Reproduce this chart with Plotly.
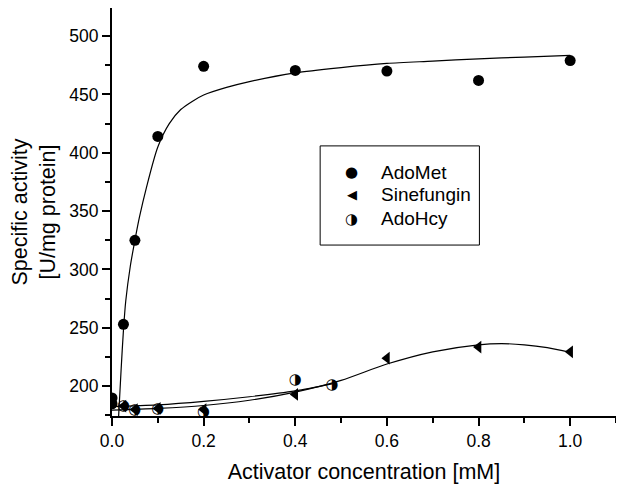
import plotly.graph_objects as go

# ---- data ----
adomet_x = [0, 0, 0.025, 0.05, 0.1, 0.2, 0.4, 0.6, 0.8, 1.0]
adomet_y = [190, 185, 253, 325, 414, 474, 470.5, 470, 462, 479]

sinef_x = [0.025, 0.05, 0.1, 0.2, 0.4, 0.6, 0.8, 1.0]
sinef_y = [183, 180, 181, 180, 193, 224, 233.5, 229.5]

adohcy_x = [0.025, 0.05, 0.1, 0.2, 0.4, 0.48]
adohcy_y = [182.5, 179.5, 180.5, 177.5, 205, 201]

# fitted curves
adomet_fit_x = [0.0145, 0.02, 0.025, 0.03, 0.04, 0.05, 0.06, 0.075, 0.1, 0.125, 0.15,
                0.175, 0.2, 0.25, 0.3, 0.4, 0.5, 0.6, 0.7, 0.8, 0.9, 1.0]
adomet_fit_y = [174.5, 215, 248, 273, 303, 325, 345, 370, 405, 425, 437,
                444, 449.5, 456, 461, 468.5, 473, 476.5, 478.5, 480.5, 482, 483.5]

sinef_fit_x = [0, 0.1, 0.2, 0.3, 0.4, 0.5, 0.6, 0.7, 0.8, 0.85, 0.9, 0.95, 1.0]
sinef_fit_y = [179.5, 181, 183.5, 188, 195, 205, 219, 229.5, 235.5, 236.5, 235.5, 233, 229]

adohcy_fit_x = [0, 0.1, 0.2, 0.3, 0.4, 0.48]
adohcy_fit_y = [182.5, 184, 187, 191, 196, 202]

series_names = ["AdoMet", "Sinefungin", "AdoHcy"]
x_ticks = [0.0, 0.2, 0.4, 0.6, 0.8, 1.0]
y_ticks = [200, 250, 300, 350, 400, 450, 500]

FONT = "Liberation Sans, Arial, Helvetica, sans-serif"

fig = go.Figure()

line_style = dict(color="black", width=1.2, shape="spline", smoothing=0.8)
fig.add_trace(go.Scatter(x=adomet_fit_x, y=adomet_fit_y, mode="lines", line=line_style, showlegend=False))
fig.add_trace(go.Scatter(x=sinef_fit_x, y=sinef_fit_y, mode="lines", line=line_style, showlegend=False))
fig.add_trace(go.Scatter(x=adohcy_fit_x, y=adohcy_fit_y, mode="lines", line=line_style, showlegend=False))

fig.add_trace(go.Scatter(x=adomet_x, y=adomet_y, mode="markers", name=series_names[0],
                         marker=dict(symbol="circle", size=11, color="black"), showlegend=False))
fig.add_trace(go.Scatter(x=sinef_x, y=sinef_y, mode="markers", name=series_names[1],
                         marker=dict(symbol="triangle-left", size=11, color="black"), showlegend=False))
fig.add_trace(go.Scatter(x=adohcy_x, y=adohcy_y, mode="text", name=series_names[2],
                         text=["◑"] * len(adohcy_x), textposition="middle center",
                         textfont=dict(family="DejaVu Sans", size=15, color="black"),
                         showlegend=False))

# manual legend box
fig.add_shape(type="rect", xref="paper", yref="paper", x0=0.413, x1=0.729, y0=0.419, y1=0.662,
              line=dict(color="black", width=1), fillcolor="white", layer="above")
legend_syms = ["●", "◀", "◑"]
legend_sizes = [15, 13, 15]
legend_rows = [0.597, 0.542, 0.483]
for name, sym, sz, yy in zip(series_names, legend_syms, legend_sizes, legend_rows):
    fig.add_annotation(xref="paper", yref="paper", x=0.476, y=yy, text=sym, showarrow=False,
                       xanchor="center", yanchor="middle",
                       font=dict(family="DejaVu Sans", size=sz, color="black"))
    fig.add_annotation(xref="paper", yref="paper", x=0.529, y=yy, text=name, showarrow=False,
                       xanchor="left", yanchor="middle",
                       font=dict(family=FONT, size=19, color="black"))

axis_common = dict(showgrid=False, zeroline=False, showline=True, linecolor="black", linewidth=2,
                   ticks="outside", ticklen=8, tickwidth=1.5, tickcolor="black", automargin=False,
                   tickfont=dict(family=FONT, size=17.5, color="black"), mirror=False)

fig.update_xaxes(range=[0, 1.1], tickvals=x_ticks, ticktext=[f"{v:.1f}" for v in x_ticks],
                 minor=dict(dtick=0.1, ticks="outside", ticklen=5, tickwidth=1.5, tickcolor="black", tick0=0),
                 title=dict(text="Activator concentration [mM]", font=dict(family=FONT, size=21.5, color="black"),
                            standoff=14),
                 **axis_common)
fig.update_yaxes(range=[174.5, 524], tickvals=y_ticks,
                 minor=dict(dtick=25, ticks="outside", ticklen=5, tickwidth=1.5, tickcolor="black", tick0=0),
                 title=dict(text="Specific activity<br>[U/mg protein]",
                            font=dict(family=FONT, size=21.5, color="black"), standoff=17),
                 **axis_common)

fig.update_layout(width=624, height=487, margin=dict(l=104, r=16, t=0, b=79),
                  paper_bgcolor="white", plot_bgcolor="white", showlegend=False)

fig.write_html("out.html")
